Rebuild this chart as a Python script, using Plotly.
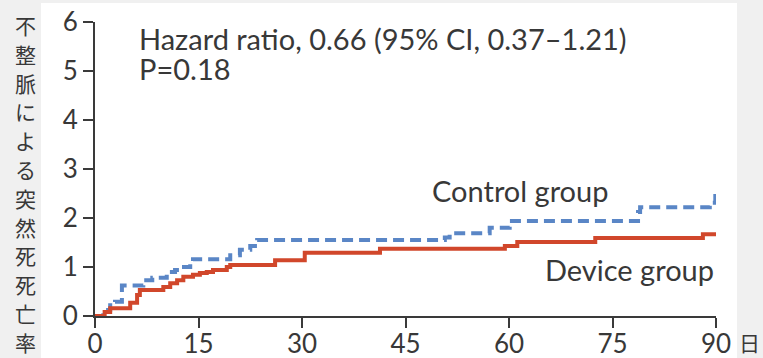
import plotly.graph_objects as go

# Control group (dashed blue) step points: day, cumulative rate (%)
control_days = [0, 1.2, 2.2, 2.9, 3.9, 7.0, 8.3, 10.4, 11.6, 12.3, 13.8, 14.2, 19.6, 21.0, 22.5, 23.5,
                50.7, 51.4, 57.2, 60.1, 78.7, 79.0, 89.1, 89.9, 90]
control_vals = [0, 0.12, 0.22, 0.29, 0.62, 0.73, 0.78, 0.90, 0.94, 1.0, 1.10, 1.16, 1.24, 1.35, 1.43, 1.55,
                1.60, 1.69, 1.80, 1.94, 2.12, 2.22, 2.31, 2.45, 2.45]

# Device group (solid red)
device_days = [0, 1.4, 2.2, 5.1, 6.1, 6.5, 9.9, 10.9, 11.9, 12.8, 14.2, 15.2, 16.2, 17.1, 19.1, 19.6,
               26.1, 30.4, 41.3, 59.4, 61.2, 72.5, 88.1, 90]
device_vals = [0, 0.08, 0.16, 0.27, 0.43, 0.53, 0.59, 0.67, 0.73, 0.80, 0.84, 0.88, 0.90, 0.94, 1.0, 1.04,
               1.14, 1.29, 1.37, 1.43, 1.51, 1.59, 1.67, 1.67]

x_ticks = [0, 15, 30, 45, 60, 75, 90]
y_ticks = [0, 1, 2, 3, 4, 5, 6]

BLUE = "#5a86c6"
RED = "#d1472b"
TXT = "#383838"
FONT = "Lato"

fig = go.Figure()
fig.add_trace(go.Scatter(x=control_days, y=control_vals, mode="lines", line_shape="hv",
                         line=dict(color=BLUE, width=4, dash="11px,6px"), showlegend=False))
fig.add_trace(go.Scatter(x=device_days, y=device_vals, mode="lines", line_shape="hv",
                         line=dict(color=RED, width=4), showlegend=False))

W, H = 763, 358
L, R, T, B = 95, 47, 22, 42
pw, ph = W - L - R, H - T - B

def px2paper_x(px):
    return (px - L) / pw

def px2paper_y(py):
    return (H - B - py) / ph

# white panel
fig.add_shape(type="rect", xref="paper", yref="paper", layer="below",
              x0=px2paper_x(41), x1=px2paper_x(737), y0=px2paper_y(360), y1=px2paper_y(3),
              fillcolor="white", line=dict(width=0))

fig.add_annotation(x=6.2, y=5.67, xref="x", yref="y", xanchor="left", yanchor="middle",
                   text="Hazard ratio, 0.66 (95% CI, 0.37–1.21)", showarrow=False, borderpad=0,
                   font=dict(family=FONT, size=29, color=TXT))
fig.add_annotation(x=6.2, y=5.06, xref="x", yref="y", xanchor="left", yanchor="middle",
                   text="P=0.18", showarrow=False, borderpad=0,
                   font=dict(family=FONT, size=29, color=TXT))
fig.add_annotation(x=48.6, y=2.57, xref="x", yref="y", xanchor="left", yanchor="middle",
                   text="Control group", showarrow=False, font=dict(family=FONT, size=29, color=TXT))
fig.add_annotation(x=64.9, y=0.94, xref="x", yref="y", xanchor="left", yanchor="middle",
                   text="Device group", showarrow=False, font=dict(family=FONT, size=29, color=TXT))

ytitle = "不整脈による突然死死亡率"
for i, ch in enumerate(ytitle):
    fig.add_annotation(x=px2paper_x(25), y=px2paper_y(25 + i * 28.8), xref="paper", yref="paper",
                       xanchor="center", yanchor="middle", showarrow=False, text=ch, borderpad=0,
                       font=dict(family="Noto Sans CJK JP", size=21, color=TXT))
fig.add_annotation(x=px2paper_x(749), y=px2paper_y(342), xref="paper", yref="paper",
                   xanchor="center", yanchor="middle", showarrow=False, text="日", borderpad=0,
                   font=dict(family="Noto Sans CJK JP", size=21, color=TXT))

axis_common = dict(showline=True, linecolor="#3a3a3a", linewidth=2, ticks="outside",
                   ticklen=10, tickwidth=2, tickcolor="#3a3a3a", showgrid=False, zeroline=False,
                   tickfont=dict(family=FONT, size=26, color=TXT), fixedrange=True, automargin=False)

fig.update_xaxes(range=[0, 90], tickvals=x_ticks, ticktext=[str(v) for v in x_ticks],
                 ticklabelstandoff=-6, **axis_common)
fig.update_yaxes(range=[0, 6], tickvals=y_ticks, ticktext=[str(v) for v in y_ticks], **axis_common)

fig.update_layout(width=W, height=H, margin=dict(l=L, r=R, t=T, b=B, pad=0),
                  paper_bgcolor="#f0f0f0", plot_bgcolor="white", showlegend=False)

fig.write_html("out.html", config={"displayModeBar": False},
               post_script="document.body.style.margin='0';document.body.style.overflow='hidden';")
